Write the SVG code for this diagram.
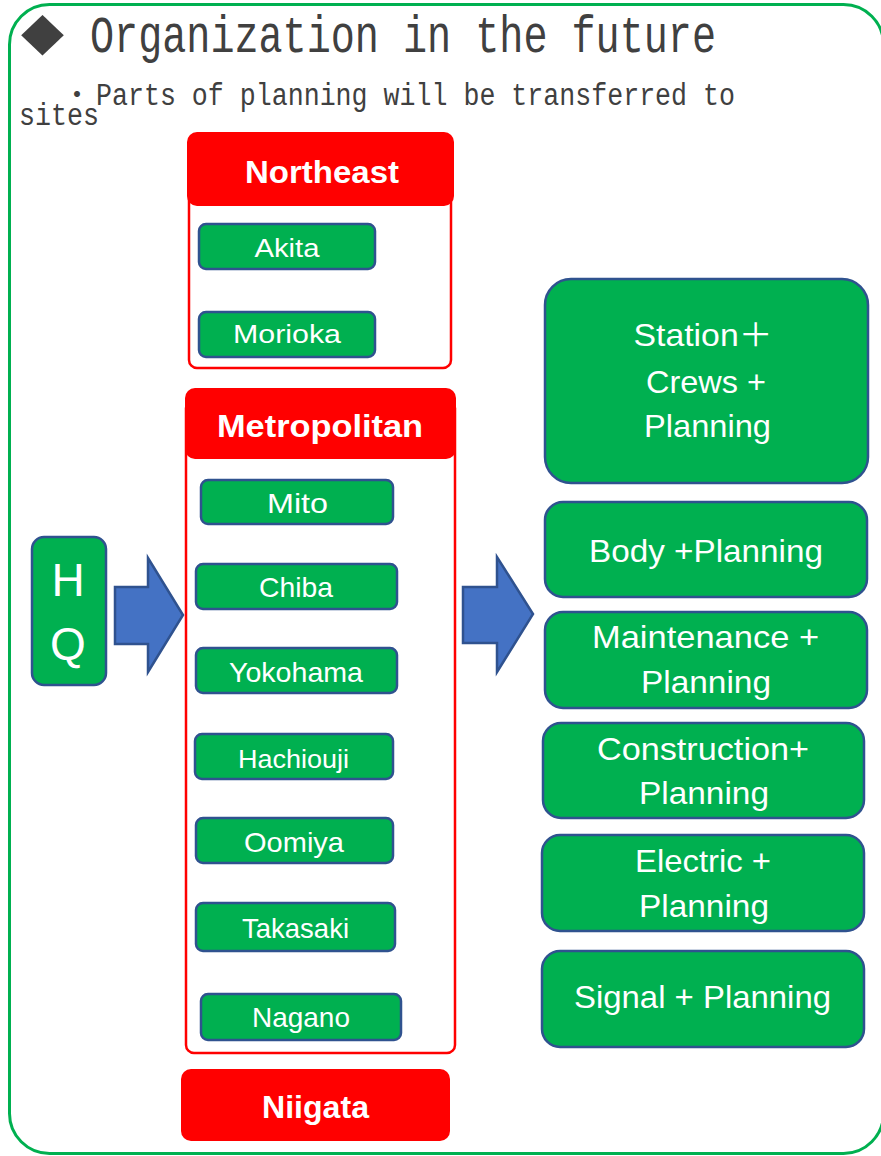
<svg xmlns="http://www.w3.org/2000/svg" width="881" height="1156" viewBox="0 0 881 1156">
<style>
.frame{fill:#fff;stroke:#00B050;stroke-width:3}
.title{font-family:"Liberation Mono","DejaVu Sans Mono",monospace;fill:#404040}
.grp{fill:#fff;stroke:#FF0000;stroke-width:2.5}
.hdr{fill:#FF0000}
.hdrt{font-family:"Liberation Sans",Arial,sans-serif;font-weight:bold;font-size:32px;fill:#fff;text-anchor:middle}
.site{fill:#00B050;stroke:#2F528F;stroke-width:2.5}
.st{font-family:"Liberation Sans",Arial,sans-serif;fill:#fff;text-anchor:middle}
.big{font-family:"Liberation Sans",Arial,"Noto Sans CJK JP",sans-serif;font-size:32px;fill:#fff;text-anchor:middle}
.arrow{fill:#4472C4;stroke:#2F528F;stroke-width:2.5;stroke-linejoin:miter}
</style>
<rect class="frame" x="9.5" y="4.5" width="874" height="1149" rx="40"/>
<g id="title">
<text x="21" y="49" font-size="53" textLength="43" lengthAdjust="spacingAndGlyphs" fill="#404040" font-family="'DejaVu Sans',sans-serif">◆</text>
<text class="title" x="90" y="52" font-size="51" textLength="626" lengthAdjust="spacingAndGlyphs">Organization in the future</text>
<text class="title" y="105" font-size="31"><tspan x="63" font-family="'Noto Sans CJK JP',sans-serif" font-size="28">・</tspan><tspan x="96" textLength="639" lengthAdjust="spacingAndGlyphs">Parts of planning will be transferred to</tspan></text>
<text class="title" x="19" y="125" font-size="31" textLength="80" lengthAdjust="spacingAndGlyphs">sites</text>
</g>
<g id="northeast">
<rect class="grp" x="189" y="140" width="262" height="228" rx="8"/>
<rect class="hdr" x="187" y="132" width="267" height="74" rx="10"/>
<text class="hdrt" x="322" y="183" textLength="154" lengthAdjust="spacingAndGlyphs">Northeast</text>
</g>
<g id="akita"><rect class="site" x="199" y="224" width="176" height="45" rx="7"/><text class="st" x="287" y="257" font-size="26" textLength="65" lengthAdjust="spacingAndGlyphs">Akita</text></g>
<g id="morioka"><rect class="site" x="199" y="312" width="176" height="45" rx="7"/><text class="st" x="287" y="343" font-size="26" textLength="108" lengthAdjust="spacingAndGlyphs">Morioka</text></g>
<g id="metropolitan">
<rect class="grp" x="186" y="400" width="269" height="653" rx="8"/>
<rect class="hdr" x="185" y="388" width="271" height="71" rx="10"/>
<text class="hdrt" x="320" y="437" textLength="206" lengthAdjust="spacingAndGlyphs">Metropolitan</text>
</g>
<g id="mito"><rect class="site" x="201" y="480" width="192" height="44" rx="7"/><text class="st" x="297.5" y="513" font-size="28" textLength="61" lengthAdjust="spacingAndGlyphs">Mito</text></g>
<g id="chiba"><rect class="site" x="196" y="564" width="201" height="45" rx="7"/><text class="st" x="296" y="597" font-size="28" textLength="74" lengthAdjust="spacingAndGlyphs">Chiba</text></g>
<g id="yokohama"><rect class="site" x="196" y="648" width="201" height="45" rx="7"/><text class="st" x="296" y="682" font-size="28" textLength="134" lengthAdjust="spacingAndGlyphs">Yokohama</text></g>
<g id="hachiouji"><rect class="site" x="195" y="734" width="198" height="45" rx="7"/><text class="st" x="293.5" y="768" font-size="26" textLength="111" lengthAdjust="spacingAndGlyphs">Hachiouji</text></g>
<g id="oomiya"><rect class="site" x="196" y="818" width="197" height="45" rx="7"/><text class="st" x="294" y="852" font-size="28" textLength="100" lengthAdjust="spacingAndGlyphs">Oomiya</text></g>
<g id="takasaki"><rect class="site" x="196" y="903" width="199" height="48" rx="7"/><text class="st" x="295.5" y="938" font-size="28" textLength="107" lengthAdjust="spacingAndGlyphs">Takasaki</text></g>
<g id="nagano"><rect class="site" x="201" y="994" width="200" height="46" rx="7"/><text class="st" x="301" y="1027" font-size="28" textLength="98" lengthAdjust="spacingAndGlyphs">Nagano</text></g>
<g id="niigata"><rect class="hdr" x="181" y="1069" width="269" height="72" rx="10"/><text class="hdrt" x="315.5" y="1118" textLength="107" lengthAdjust="spacingAndGlyphs">Niigata</text></g>
<g id="hq"><rect class="site" x="32" y="537" width="74" height="148" rx="12"/>
<text class="st" x="68" y="596" font-size="46">H</text><text class="st" x="68" y="660" font-size="46">Q</text></g>
<g id="connectors">
<polygon class="arrow" points="115,587 148,587 148,558 183,615 148,672 148,644 115,644"/>
<polygon class="arrow" points="463,587 497,587 497,557 533,614 497,672 497,643 463,643"/>
</g>
<g id="station"><rect class="site" x="545" y="279" width="323" height="204" rx="26"/>
<text class="big" x="703" y="346" textLength="139" lengthAdjust="spacingAndGlyphs">Station＋</text>
<text class="big" x="706" y="393" textLength="120" lengthAdjust="spacingAndGlyphs">Crews +</text>
<text class="big" x="707.5" y="437" textLength="127" lengthAdjust="spacingAndGlyphs">Planning</text></g>
<g id="body"><rect class="site" x="545" y="502" width="322" height="95" rx="18"/>
<text class="big" x="706" y="562" textLength="234" lengthAdjust="spacingAndGlyphs">Body +Planning</text></g>
<g id="maintenance"><rect class="site" x="545" y="612" width="322" height="96" rx="18"/>
<text class="big" x="705.5" y="648" textLength="227" lengthAdjust="spacingAndGlyphs">Maintenance +</text>
<text class="big" x="706" y="693" textLength="130" lengthAdjust="spacingAndGlyphs">Planning</text></g>
<g id="construction"><rect class="site" x="543" y="723" width="321" height="95" rx="18"/>
<text class="big" x="703" y="760" textLength="212" lengthAdjust="spacingAndGlyphs">Construction+</text>
<text class="big" x="704" y="804" textLength="130" lengthAdjust="spacingAndGlyphs">Planning</text></g>
<g id="electric"><rect class="site" x="542" y="835" width="322" height="96" rx="18"/>
<text class="big" x="703" y="872" textLength="136" lengthAdjust="spacingAndGlyphs">Electric +</text>
<text class="big" x="704" y="917" textLength="130" lengthAdjust="spacingAndGlyphs">Planning</text></g>
<g id="signal"><rect class="site" x="542" y="951" width="322" height="96" rx="18"/>
<text class="big" x="702.5" y="1008" textLength="257" lengthAdjust="spacingAndGlyphs">Signal + Planning</text></g>
</svg>
